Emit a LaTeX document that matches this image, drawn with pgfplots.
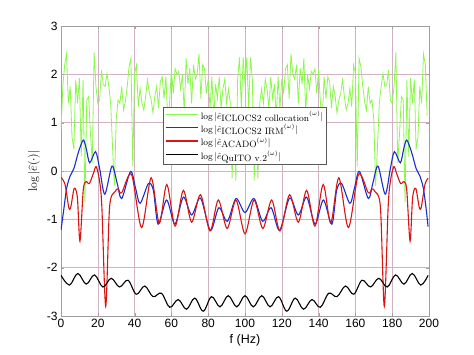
\documentclass[border=0pt]{standalone}
\usepackage{pgfplots}
\pgfplotsset{compat=1.18}
\usepackage{fontspec}
\newfontfamily\arialf{Liberation Sans}
\definecolor{mygreen}{rgb}{0.55,0.97,0.3}
\definecolor{myblue}{rgb}{0.1,0.18,0.8}
\definecolor{myred}{rgb}{0.85,0.08,0.08}
\definecolor{gridc}{rgb}{0.82,0.7,0.76}
\newcommand{\lent}[1]{log\,\textbar$\hat{e}$\raisebox{-2pt}{#1}${}^{(\omega)}$\textbar}
\begin{document}
\begin{tikzpicture}
\begin{axis}[
 width=368pt, height=290pt, scale only axis,
 xmin=0, xmax=200, ymin=-3, ymax=3,
 xtick={0,20,...,200}, ytick={-3,-2,...,3},
 grid=major, major grid style={gridc, line width=0.5pt},
 axis line style={gray!75}, tick style={gray!75},
 tick align=inside, major tick length=3pt,
 ticklabel style={font=\arialf\fontsize{12}{14}\selectfont},
 /pgf/number format/assume math mode=true,
 xlabel={\arialf\fontsize{12.5}{14}\selectfont f (Hz)},
 ylabel={$\log|\widehat{e}(\cdot)|$},
 ylabel style={font=\fontsize{12}{14}\selectfont},
 legend style={at={(0.5,0.72)}, anchor=north, font=\fontsize{9.2}{10}\selectfont, draw=gray!70!black, fill=white, inner sep=1.5pt, row sep=-0.5pt},
 legend cell align=left,
 legend image code/.code={\draw[#1] (0cm,0.05cm) -- (1.15cm,0.05cm);},
]
\addplot[mygreen, line width=0.8pt] coordinates {
(0,0.85)(1,1.75)(2,2.2)(3,2.42)(4,1.4)(5,1.75)(6,0.7)(7,0.45)(8,1.89)(9,1.40)
(10,1.92)(11,0.3)(12,1.89)(13,-0.65)(14,1.47)(15,1.54)(16,0.78)(17,0.16)(18,2.45)(19,1.75)
(20,1.40)(21,1.47)(22,2.09)(23,1.78)(24,1.75)(25,2.02)(26,1.75)(27,1.40)(28,0.50)(29,-0.3)
(30,1.06)(31,1.47)(32,1.40)(33,1.75)(34,1.26)(35,1.44)(36,1.75)(37,2.16)(38,2.33)(39,0.09)
(40,2.02)(41,2.19)(42,1.33)(43,1.71)(44,1.40)(45,1.26)(46,1.54)(47,1.89)(48,1.61)(49,1.47)
(50,1.2)(51,1.54)(52,1.75)(53,1.3)(54,1.85)(55,1.95)(56,1.5)(57,1.95)(58,1.1)(59,1.4)
(60,2.1)(61,1.6)(62,2.12)(63,2.0)(64,2.06)(65,1.7)(66,2.0)(67,1.2)(68,2.33)(69,1.8)
(70,2.13)(71,1.4)(72,2.2)(73,1.9)(74,2.0)(75,2.43)(76,1.5)(77,2.2)(78,2.12)(79,1.6)
(80,1.9)(81,1.3)(82,1.95)(83,1.1)(84,1.8)(85,1.5)(86,1.95)(87,1.3)(88,1.7)(89,1.9)
(90,1.4)(91,1.7)(92,1.4)(93,-0.15)(94,1.2)(95,-0.2)(96,1.9)(97,2.35)(98,1.3)(99,2.35)
(100,1.8)
(101,2.35)(102,1.3)(103,2.35)(104,1.9)(105,-0.2)(106,1.2)(107,-0.15)(108,1.4)(109,1.7)
(110,1.4)(111,1.9)(112,1.7)(113,1.3)(114,1.95)(115,1.5)(116,1.8)(117,1.1)(118,1.95)(119,1.3)
(120,1.9)(121,1.6)(122,2.12)(123,2.2)(124,1.5)(125,2.43)(126,2.0)(127,1.9)(128,2.2)(129,1.4)
(130,2.13)(131,1.8)(132,2.33)(133,1.2)(134,2.0)(135,1.7)(136,2.06)(137,2.0)(138,2.12)(139,1.6)
(140,2.1)(141,1.4)(142,1.1)(143,1.95)(144,1.5)(145,1.95)(146,1.85)(147,1.3)(148,1.75)(149,1.54)
(150,1.2)(151,1.47)(152,1.61)(153,1.89)(154,1.54)(155,1.26)(156,1.40)(157,1.71)(158,1.33)(159,2.19)
(160,2.02)(161,0.09)(162,2.33)(163,2.16)(164,1.75)(165,1.44)(166,1.26)(167,1.75)(168,1.40)(169,1.47)
(170,1.06)(171,-0.3)(172,0.50)(173,1.40)(174,1.75)(175,2.02)(176,1.75)(177,1.78)(178,2.09)(179,1.47)
(180,1.40)(181,1.75)(182,2.45)(183,0.16)(184,0.78)(185,1.54)(186,1.47)(187,-0.65)(188,1.89)(189,0.3)
(190,1.92)(191,1.40)(192,1.89)(193,0.45)(194,0.7)(195,1.75)(196,1.4)(197,2.42)(198,2.2)(199,1.15)
};
\addlegendentry{\lent{ICLOCS2 collocation}}
\addplot[myblue, line width=1.1pt, smooth, tension=0.5] coordinates {
(0,-1.22)(1.5,-0.8)(3.1,-0.35)(5,-0.1)(7,0.05)(9.4,0.38)(12.1,0.64)(13.8,0.45)(15.6,0.17)(18.8,0.40)
(21,0.05)(23.8,-0.48)(27.7,0.10)(30.5,-0.25)(33,-0.57)(37.8,-0.01)(40.5,-0.35)(43,-0.67)(47.5,-0.26)
(50.2,-0.40)(52.8,-1.10)(57.4,-0.60)(61.9,-1.10)(66.5,-0.54)(71,-0.91)(75.8,-0.56)(81.2,-1.23)
(85.8,-0.76)(90.4,-1.04)(95.1,-0.57)(100,-0.86)
(104.9,-0.57)(109.6,-1.04)(114.2,-0.76)(118.8,-1.23)(124.2,-0.56)(129,-0.91)(133.5,-0.54)
(138.1,-1.10)(142.6,-0.60)(147.2,-1.10)(149.8,-0.40)(152.5,-0.26)(157,-0.67)(159.5,-0.35)
(162.2,-0.01)(167,-0.57)(169.5,-0.25)(172.3,0.10)(176.2,-0.48)(179,0.05)(181.2,0.40)(184.4,0.17)
(186.2,0.45)(187.9,0.64)(190.6,0.38)(193,0.05)(195,-0.1)(196.9,-0.35)(198.5,-0.8)(199.5,-1.15)
};
\addlegendentry{\lent{ICLOCS2 IRM}}
\addplot[myred, line width=1.1pt, smooth, tension=0.5] coordinates {
(0,-0.13)(2.2,-0.28)(4.2,-0.75)(5.3,-0.75)(7.2,-0.36)(8.9,-0.55)(10.3,-1.45)(12.1,-0.39)(13.6,-0.22)
(15.4,-0.26)(17.6,-0.05)(19.1,0.09)(20.9,-0.19)(22.2,-0.74)(24.3,-2.80)(26.4,-0.75)(29.3,-0.43)
(31,-0.37)(33,-0.45)(38.3,-0.07)(43.8,-1.17)(49,-0.14)(53.4,-1.08)(57.5,-0.28)(62,-1.14)
(66.5,-0.40)(71,-1.06)(75.8,-0.49)(81,-1.24)(85.5,-0.60)(90.3,-1.19)(95.1,-0.60)(100,-1.30)
(104.9,-0.60)(109.7,-1.19)(114.5,-0.60)(119,-1.24)(124.2,-0.49)(129,-1.06)(133.5,-0.40)
(138,-1.14)(142.5,-0.28)(146.6,-1.08)(151,-0.14)(156.2,-1.17)(161.7,-0.07)(167,-0.45)(169,-0.37)
(170.7,-0.43)(173.6,-0.75)(175.7,-2.80)(177.8,-0.74)(179.1,-0.19)(180.9,0.09)(182.4,-0.05)
(184.6,-0.26)(186.4,-0.22)(187.9,-0.39)(189.7,-1.45)(191.1,-0.55)(192.8,-0.36)(194.7,-0.75)
(195.8,-0.75)(197.8,-0.28)(199.5,-0.15)
};
\addlegendentry{\lent{ACADO}}
\addplot[black, line width=1.1pt, smooth, tension=0.6] coordinates {
(0,-2.16)(4.6,-2.36)(9.1,-2.12)(13.7,-2.34)(18.2,-2.15)(22.8,-2.40)(27.3,-2.22)(31.8,-2.40)
(36.4,-2.26)(40.9,-2.55)(45.5,-2.38)(50,-2.60)(54.6,-2.53)(59.1,-2.82)(63.7,-2.66)(68.2,-2.86)
(72.7,-2.63)(77.3,-2.90)(81.8,-2.60)(86.4,-2.81)(90.9,-2.58)(95.5,-2.81)(100,-2.58)
(104.5,-2.81)(109.1,-2.58)(113.6,-2.81)(118.2,-2.60)(122.7,-2.90)(127.3,-2.63)(131.8,-2.86)
(136.4,-2.66)(140.9,-2.82)(145.5,-2.53)(150,-2.60)(154.6,-2.38)(159.1,-2.55)(163.6,-2.26)
(168.2,-2.40)(172.7,-2.22)(177.3,-2.40)(181.8,-2.15)(186.4,-2.34)(190.9,-2.12)(195.5,-2.36)(199.5,-2.16)
};
\addlegendentry{\lent{QuITO v.2}}
\end{axis}
\path ([shift={(-61pt,-39pt)}]current axis.south west) rectangle ([shift={(45pt,26pt)}]current axis.north east);
\end{tikzpicture}
\end{document}
